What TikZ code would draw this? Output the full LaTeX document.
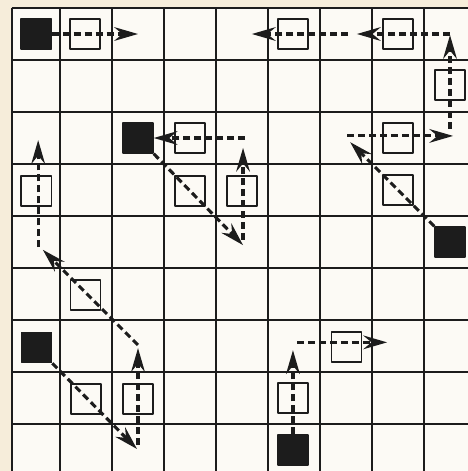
\documentclass[tikz,border=0pt]{standalone}
\usetikzlibrary{arrows.meta}
\definecolor{paper}{RGB}{246,237,218}
\definecolor{board}{RGB}{252,250,245}
\definecolor{ink}{RGB}{28,28,28}

\begin{document}
\begin{tikzpicture}[line join=round,>={Stealth[length=13pt,width=7.5pt,inset=4.5pt]},every node/.style={inner sep=0pt},
  gridline/.style={line width=1.1pt,draw=ink},
  sq/.style={draw=ink,line width=0.7pt,minimum size=0.58cm},
  piece/.style={sq,fill=ink},
  move/.style={->,draw=ink,line width=1.7pt,dash pattern=on 3.8pt off 2.2pt}]
  \def\W{8.346}
  \def\H{-8.404}
  \useasboundingbox (-0.654,0.654) rectangle (\W,\H);
  \fill[paper] (-0.654,0.654) rectangle (\W,\H);
  \fill[board] (-0.43,0.5) rectangle (\W,\H);
  \clip (-0.654,0.654) rectangle (\W,\H);
  % board
  \draw[gridline] (-0.43,0.5) -- (-0.43,-8.6);
  \foreach \i in {1,...,9}
    \draw[gridline] ({\i-0.5},0.5) -- ({\i-0.5},-8.6);
  \foreach \j in {0,...,9}
    \draw[gridline] (-0.43,{0.5-\j}) -- (8.6,{0.5-\j});
  % pieces
  \node[piece] (k1) at (0.04,0) {};
  \node[piece] (k2) at (2,-2) {};
  \node[piece] (k3) at (8,-4) {};
  \node[piece] (k4) at (0.05,-6.03) {};
  \node[piece] (k5) at (4.98,-8) {};
  % passed squares
  \node[sq] (o1) at (0.98,0) {};
  \node[sq] (o2) at (4.98,0) {};
  \node[sq] (o3) at (7,0) {};
  \node[sq] (o4) at (8,-0.98) {};
  \node[sq] (o5) at (3,-2) {};
  \node[sq] (o6) at (7,-2) {};
  \node[sq] (o7) at (3,-3.02) {};
  \node[sq] (o8) at (4,-3.02) {};
  \node[sq] (o9) at (7,-3) {};
  \node[sq] (o10) at (0.04,-3.02) {};
  \node[sq] (o11) at (0.99,-5.02) {};
  \node[sq] (o12) at (6.01,-6.02) {};
  \node[sq] (o13) at (1,-7.02) {};
  \node[sq] (o14) at (2,-7.02) {};
  \node[sq] (o15) at (4.98,-7) {};
  % turning points
  \coordinate (p1) at (2,0);
  \coordinate (p2) at (8,-1.82);
  \coordinate (p3) at (8,-0.02);
  \coordinate (p4) at (8,0);
  \coordinate (p5) at (6.21,0);
  \coordinate (p6) at (6.04,0);
  \coordinate (p7) at (4.19,0);
  \coordinate (p8) at (6.08,-2.08);
  \coordinate (p9) at (6.02,-1.96);
  \coordinate (p10) at (8.06,-1.96);
  \coordinate (p11) at (4.02,-4.06);
  \coordinate (p12) at (4.02,-3.96);
  \coordinate (p13) at (4.02,-2.19);
  \coordinate (p14) at (4.06,-2);
  \coordinate (p15) at (1.98,-7.98);
  \coordinate (p16) at (2,-7.9);
  \coordinate (p17) at (2,-6.04);
  \coordinate (p18) at (2,-5.98);
  \coordinate (p19) at (0.17,-4.15);
  \coordinate (p20) at (0.08,-4.1);
  \coordinate (p21) at (0.08,-2.04);
  \coordinate (p22) at (4.98,-6.08);
  \coordinate (p23) at (5.06,-5.93);
  \coordinate (p24) at (6.79,-5.93);
  % moves
  \draw[move] (k1.east) -- (p1);
  \draw[move] (p2) -- (p3);
  \draw[move] (p4) -- (p5);
  \draw[move] (p6) -- (p7);
  \draw[move] (k3.north west) -- (p8);
  \draw[move] (p9) -- (p10);
  \draw[move] (k2.south east) -- (p11);
  \draw[move] (p12) -- (p13);
  \draw[move] (p14) -- (k2.east);
  \draw[move] (k4.south east) -- (p15);
  \draw[move] (p16) -- (p17);
  \draw[move] (p18) -- (p19);
  \draw[move] (p20) -- (p21);
  \draw[move] (k5.north) -- (p22);
  \draw[move] (p23) -- (p24);
\end{tikzpicture}
\end{document}
